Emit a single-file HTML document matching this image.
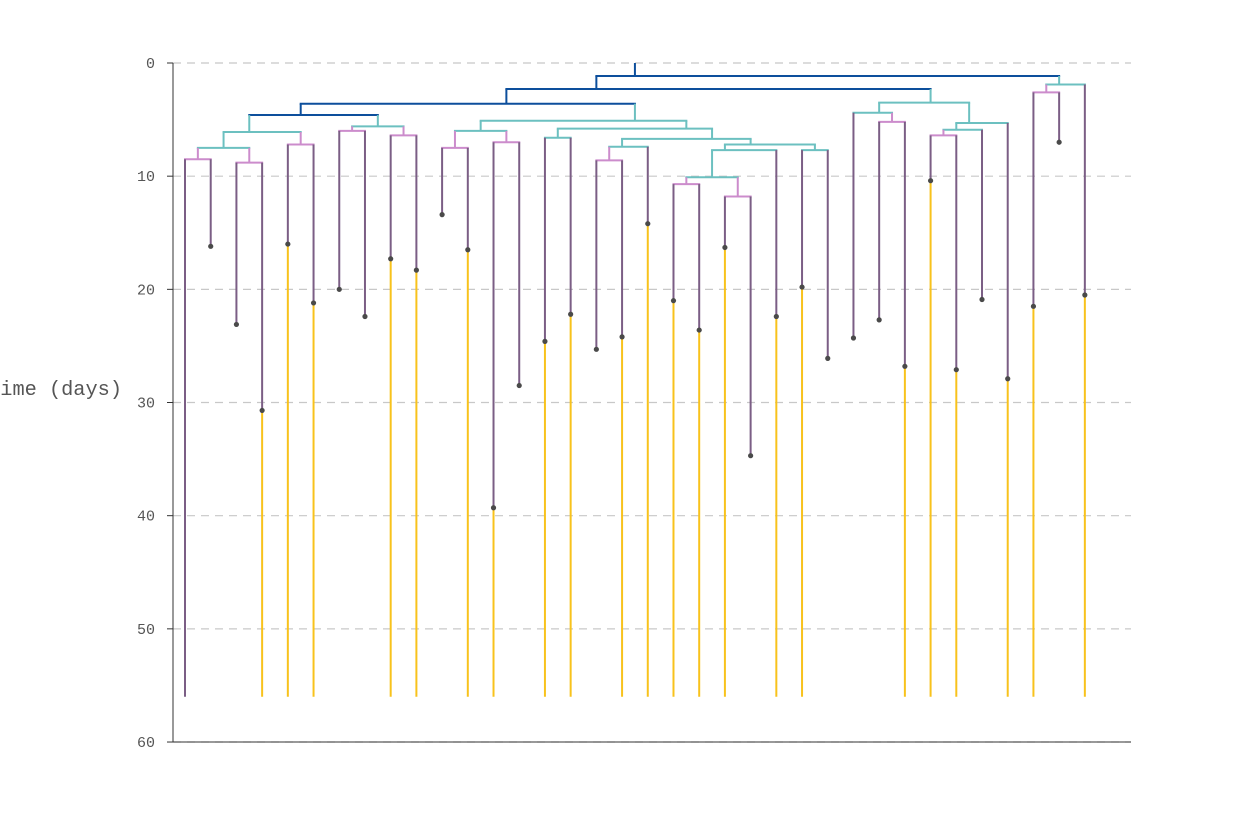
<!DOCTYPE html>
<html><head><meta charset="utf-8"><style>
body{margin:0;background:#fff}
svg{display:block}
text{font-family:"Liberation Mono",monospace;fill:#555}
</style></head><body>
<svg id="chart" width="1250" height="833" viewBox="0 0 1250 833" xmlns="http://www.w3.org/2000/svg">
<g id="grid"></g>
<g id="axes"></g>
<g id="tree"></g>
<g id="leaves"></g>
<text x="122" y="395" text-anchor="end" font-size="20.3">Time (days)</text>
</svg>
<script>
const yTicks = [0, 10, 20, 30, 40, 50, 60];
const leafEnd = 56;
// leaf dot times (days)
const leafDot = [null,16.2,23.1,30.7,16.0,21.2,20.0,22.4,17.3,18.3,13.4,16.5,39.3,28.5,24.6,22.2,25.3,24.2,14.2,21.0,23.6,16.3,34.7,22.4,19.8,26.1,24.3,22.7,26.8,10.4,27.1,20.9,27.9,21.5,7.0,20.5];
// whether leaf continues (yellow) after the dot
const leafCont = [1,0,0,1,1,1,0,0,1,1,0,1,1,0,1,1,0,1,1,1,1,1,0,1,1,0,0,0,1,1,1,0,1,1,0,1];
const rootStem = 0;
// tree: [height, colour, children...]; numbers are leaf indices
const tree = [1.15,'b',
  [2.3,'b',
    [3.6,'b',
      [4.6,'b',
        [6.1,'t',[7.5,'t',[8.5,'p',0,1],[8.8,'p',2,3]],[7.2,'p',4,5]],
        [5.6,'t',[6.0,'p',6,7],[6.4,'p',8,9]]],
      [5.1,'t',
        [6.0,'t',[7.5,'p',10,11],[7.0,'p',12,13]],
        [5.8,'t',[6.6,'t',14,15],
          [6.7,'t',[7.4,'t',[8.6,'p',16,17],18],
            [7.2,'t',[7.7,'t',[10.1,'t',[10.7,'p',19,20],[11.8,'p',21,22]],23],[7.7,'t',24,25]]]]]],
    [3.5,'t',
      [4.4,'t',26,[5.2,'p',27,28]],
      [5.3,'t',[5.9,'t',[6.4,'p',29,30],31],32]]],
  [1.9,'t',[2.6,'p',33,34],35]];

const X0=185, DX=25.71, Y0=63, DY=11.317;
const xL = i => X0 + DX*i;
const y = v => Y0 + DY*v;
const COL={b:'#0d4f9c',t:'#6cc0c0',p:'#cc8ccc'};
const NS='http://www.w3.org/2000/svg';
function mk(tag,attrs,parent){const e=document.createElementNS(NS,tag);for(const k in attrs)e.setAttribute(k,attrs[k]);parent.appendChild(e);return e;}

const grid=document.getElementById('grid'), axes=document.getElementById('axes');
yTicks.forEach(t=>{
  const g=mk('line',{x1:173,x2:1131,y1:y(t),y2:y(t),stroke:'#c8c8c8','stroke-width':1.2,'stroke-dasharray':'8,6'},grid);
  
  
  const tk=mk('line',{x1:167,x2:173,y1:y(t),y2:y(t),stroke:'#333'},axes);
  
  
  const tx=mk('text',{x:155,y:y(t)+5,'text-anchor':'end','font-size':15},axes);
  tx.textContent=t;
  
  
});
let a=mk('line',{x1:173,x2:173,y1:y(0),y2:y(60),stroke:'#333'},axes);


a=mk('line',{x1:173,x2:1131,y1:y(60),y2:y(60),stroke:'#333'},axes);



const treeG=document.getElementById('tree'), leafG=document.getElementById('leaves');
function leavesOf(n){return typeof n==='number'?[n]:n.slice(2).flatMap(leavesOf);}
function nx(n){const l=leavesOf(n);return l.reduce((s,i)=>s+xL(i),0)/l.length;}
function draw(n,parentH){
  const x=nx(n);
  if(typeof n==='number'){
    const d=leafDot[n];
    const end=d==null?leafEnd:d;
    const v=mk('line',{x1:x,x2:x,y1:y(parentH),y2:y(end),stroke:'#7b5e85','stroke-width':2},leafG);
    
    
    if(d!=null){
      if(leafCont[n]){
        const yl=mk('line',{x1:x,x2:x,y1:y(d),y2:y(leafEnd),stroke:'#f8c21c','stroke-width':2},leafG);
        
        
      }
      const c=mk('circle',{cx:x,cy:y(d),r:2.6,fill:'#4a4a4a'},leafG);
      
      
    }
    return;
  }
  const h=n[0], col=COL[n[1]], kids=n.slice(2);
  const v=mk('line',{x1:x,x2:x,y1:y(parentH),y2:y(h),stroke:col,'stroke-width':2},treeG);
  
  
  const xs=kids.map(nx);
  const hz=mk('line',{x1:Math.min(...xs)-1,x2:Math.max(...xs)+1,y1:y(h),y2:y(h),stroke:col,'stroke-width':2},treeG);
  
  
  kids.forEach(k=>draw(k,h));
}
draw(tree,rootStem);
</script>
</body></html>
